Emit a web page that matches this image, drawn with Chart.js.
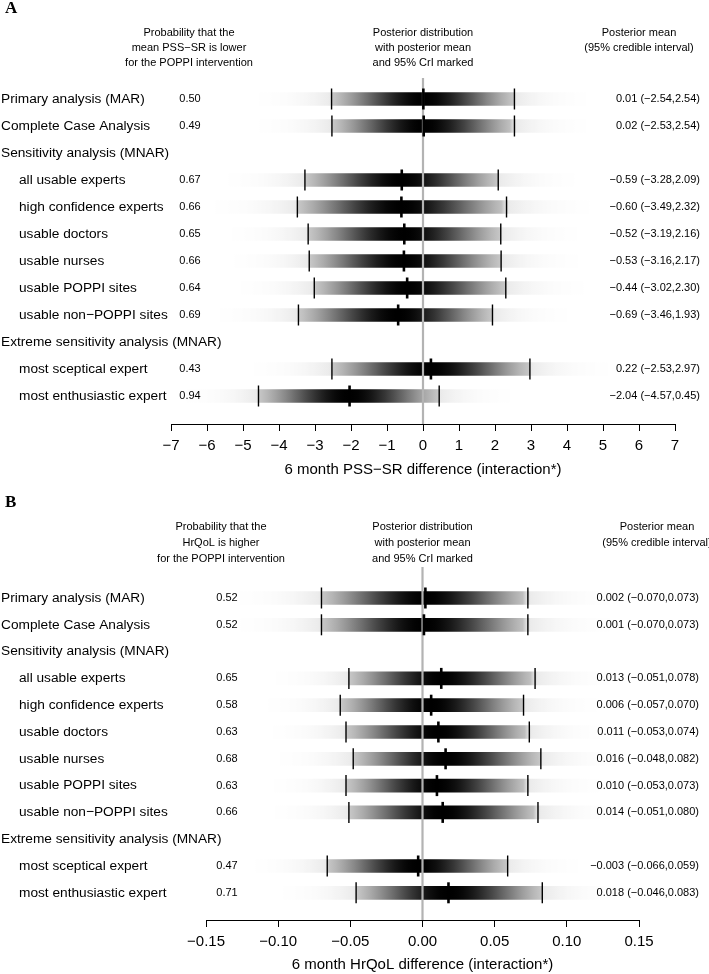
<!DOCTYPE html>
<html><head><meta charset="utf-8">
<script src="https://cdn.jsdelivr.net/npm/chart.js@4.4.1/dist/chart.umd.min.js"></script>
<style>
html,body{margin:0;padding:0;background:#fff;width:709px;height:974px;overflow:hidden}
canvas{position:absolute;left:0}
#cA{top:0}#cB{top:487px}
</style></head><body>
<canvas id="cA" width="709" height="487"></canvas>
<canvas id="cB" width="709" height="487"></canvas>
<script>
// ---------- data ----------
const rowLabels = ["Primary analysis (MAR)","Complete Case Analysis","Sensitivity analysis (MNAR)",
  "all usable experts","high confidence experts","usable doctors","usable nurses","usable POPPI sites",
  "usable non\u2212POPPI sites","Extreme sensitivity analysis (MNAR)","most sceptical expert","most enthusiastic expert"];
const rowIndent = [0,0,0,1,1,1,1,1,1,0,1,1];
const dataRows = [0,1,3,4,5,6,7,8,10,11];

const probA  = [0.50,0.49,0.67,0.66,0.65,0.66,0.64,0.69,0.43,0.94];
const meanA  = [0.01,0.02,-0.59,-0.60,-0.52,-0.53,-0.44,-0.69,0.22,-2.04];
const lowerA = [-2.54,-2.53,-3.28,-3.49,-3.19,-3.16,-3.02,-3.46,-2.53,-4.57];
const upperA = [2.54,2.54,2.09,2.32,2.16,2.17,2.30,1.93,2.97,0.45];
const ticksA = [-7,-6,-5,-4,-3,-2,-1,0,1,2,3,4,5,6,7];

const probB  = [0.52,0.52,0.65,0.58,0.63,0.68,0.63,0.66,0.47,0.71];
const meanB  = [0.002,0.001,0.013,0.006,0.011,0.016,0.010,0.014,-0.003,0.018];
const lowerB = [-0.070,-0.070,-0.051,-0.057,-0.053,-0.048,-0.053,-0.051,-0.066,-0.046];
const upperB = [0.073,0.073,0.078,0.070,0.074,0.082,0.073,0.080,0.059,0.083];
const ticksB = [-0.15,-0.10,-0.05,0.00,0.05,0.10,0.15];

const probHeadA = ["Probability that the","mean PSS\u2212SR is lower","for the POPPI intervention"];
const probHeadB = ["Probability that the","HrQoL is higher","for the POPPI intervention"];
const distHead  = ["Posterior distribution","with posterior mean","and 95% CrI marked"];
const meanHead  = ["Posterior mean","(95% credible interval)"];
const titleA = "6 month PSS\u2212SR difference (interaction*)";
const titleB = "6 month HrQoL difference (interaction*)";

// ---------- style ----------
const SANS = '"Liberation Sans", Arial, Helvetica, sans-serif';
const EXT = 3.5, GAMMA = 0.8, OUT = 0.4;
const minus = s => s.replace(/-/g, "\u2212");

function makeGradient(chart, m, lo, hi) {
  const xs = chart.scales.x;
  const sdL = (m - lo) / 1.96, sdR = (hi - m) / 1.96;
  const a = m - EXT * sdL, b = m + EXT * sdR;
  const pa = xs.getPixelForValue(a), pb = xs.getPixelForValue(b);
  if (!isFinite(pa) || !isFinite(pb) || pa === pb) return null;
  const g = chart.ctx.createLinearGradient(pa, 0, pb, 0);
  const shade = (v, inside) => {
    const z = (v - m) / (v < m ? sdL : sdR);
    let d = Math.pow(Math.exp(-z * z / 2), GAMMA);
    if (!inside) d *= OUT;
    const c = Math.round(255 * (1 - d));
    return `rgb(${c},${c},${c})`;
  };
  const seg = (s, e, inside) => {
    const n = 40;
    for (let i = 0; i <= n; i++) {
      const v = s + (e - s) * i / n;
      g.addColorStop(Math.min(1, Math.max(0, (v - a) / (b - a))), shade(v, inside));
    }
  };
  seg(a, lo, false); seg(lo, hi, true); seg(hi, b, false);
  return g;
}

function buildChart(id, p) {
  const stripData = dataRows.map((r, k) => {
    const sdL = (p.mean[k] - p.lower[k]) / 1.96, sdR = (p.upper[k] - p.mean[k]) / 1.96;
    return { x: [p.mean[k] - EXT * sdL, p.mean[k] + EXT * sdR], y: r, k };
  });
  const ciData = [];
  dataRows.forEach((r, k) => { ciData.push({ x: p.lower[k], y: r }); ciData.push({ x: p.upper[k], y: r }); });
  const meanData = dataRows.map((r, k) => ({ x: p.mean[k], y: r }));

  const yMin = -(p.row0 - p.zeroTop) / p.rowStep;
  const yMax = (p.axisY - p.row0) / p.rowStep;

  const textPlugin = {
    id: 'panelText',
    afterDatasetDraw(chart, args) {
      if (args.index !== 0) return;
      const c = chart.ctx, x0 = chart.scales.x.getPixelForValue(0);
      c.save();
      c.strokeStyle = '#b3b3b3'; c.lineWidth = 2.2;
      c.beginPath(); c.moveTo(x0, chart.chartArea.top); c.lineTo(x0, chart.chartArea.bottom); c.stroke();
      c.restore();
    },
    afterDraw(chart) {
      const c = chart.ctx, ys = chart.scales.y, xs = chart.scales.x;
      c.save();
      c.fillStyle = '#000'; c.textBaseline = 'middle';
      c.font = 'bold 17px "Liberation Serif", "DejaVu Serif", serif'; c.textAlign = 'left';
      c.fillText(p.letter, 5, p.letterY);
      c.font = '11px ' + SANS; c.textAlign = 'center';
      p.probHead.forEach((t, i) => c.fillText(t, p.probHeadX, p.headY[i]));
      distHead.forEach((t, i) => c.fillText(t, xs.getPixelForValue(0), p.headY[i]));
      meanHead.forEach((t, i) => c.fillText(t, p.meanHeadX, p.headY[i]));
      c.font = '13.7px ' + SANS; c.textAlign = 'left';
      rowLabels.forEach((t, r) => c.fillText(t, rowIndent[r] ? 19 : 1, ys.getPixelForValue(r)));
      c.font = '11px ' + SANS;
      dataRows.forEach((r, k) => {
        const y = ys.getPixelForValue(r);
        c.textAlign = 'center';
        c.fillText(p.prob[k].toFixed(2), p.probX, y);
        c.textAlign = 'right';
        const f = v => minus(v.toFixed(p.dec));
        c.fillText(`${f(p.mean[k])} (${f(p.lower[k])},${f(p.upper[k])})`, p.valRight, y);
      });
      c.restore();
    }
  };

  const chart = new Chart(document.getElementById(id), {
    type: 'bar',
    data: {
      datasets: [
        { type: 'bar', indexAxis: 'y', data: stripData, order: 3, barThickness: 13, borderWidth: 0,
          backgroundColor: ctx => {
            const k = ctx.raw && ctx.raw.k;
            if (k === undefined || !ctx.chart.scales || !ctx.chart.scales.x) return 'rgba(0,0,0,0)';
            return makeGradient(ctx.chart, p.mean[k], p.lower[k], p.upper[k]) || 'rgba(0,0,0,0)';
          } },
        { type: 'scatter', data: ciData, order: 2, showLine: false, pointStyle: 'line', pointRotation: 90,
          pointRadius: 10.5, pointBorderWidth: 1.4, pointBorderColor: '#000', pointBackgroundColor: '#000' },
        { type: 'scatter', data: meanData, order: 1, showLine: false, pointStyle: 'line', pointRotation: 90,
          pointRadius: 10.5, pointBorderWidth: 2.6, pointBorderColor: '#000', pointBackgroundColor: '#000' }
      ]
    },
    options: {
      responsive: false, animation: false, events: [], devicePixelRatio: 1,
      layout: { padding: { left: p.left, right: 709 - p.right, top: p.zeroTop, bottom: 0 } },
      plugins: { legend: { display: false }, tooltip: { enabled: false } },
      scales: {
        x: {
          type: 'linear', offset: false, min: p.ticks[0], max: p.ticks[p.ticks.length - 1],
          afterBuildTicks: s => { s.ticks = p.ticks.map(v => ({ value: v })); },
          afterFit: s => { s.height = 487 - p.axisY; },
          ticks: { color: '#000', font: { family: SANS, size: 15 }, padding: 6, maxRotation: 0, autoSkip: false,
                   callback: v => minus(p.tickFmt(v)) },
          grid: { display: true, offset: false, drawOnChartArea: false, drawTicks: true, tickLength: 7, tickColor: '#000', tickWidth: 1 },
          border: { display: true, color: '#000', width: 1 },
          title: { display: true, text: p.title, color: '#000', font: { family: SANS, size: 15 },
                   padding: { top: 0, bottom: p.titlePad } }
        },
        y: { type: 'linear', offset: false, grid: { offset: false }, reverse: true, min: yMin, max: yMax, display: false }
      }
    },
    plugins: [textPlugin]
  });
  chart.update();
  return chart;
}

buildChart('cA', {
  letter: 'A', letterY: 9, prob: probA, mean: meanA, lower: lowerA, upper: upperA, ticks: ticksA,
  tickFmt: v => String(v), dec: 2, title: titleA, probHead: probHeadA,
  left: 171, right: 675, zeroTop: 78, row0: 99, rowStep: 27, axisY: 424, titlePad: 8,
  probX: 190, probHeadX: 189, meanHeadX: 639, valRight: 700, headY: [33, 48, 63]
});
buildChart('cB', {
  letter: 'B', letterY: 16, prob: probB, mean: meanB, lower: lowerB, upper: upperB, ticks: ticksB,
  tickFmt: v => v.toFixed(2), dec: 3, title: titleB, probHead: probHeadB,
  left: 206, right: 639, zeroTop: 80, row0: 111, rowStep: 26.8, axisY: 433, titlePad: 0,
  probX: 227, probHeadX: 221, meanHeadX: 657, valRight: 699, headY: [40, 56, 72]
});
</script>
</body></html>
